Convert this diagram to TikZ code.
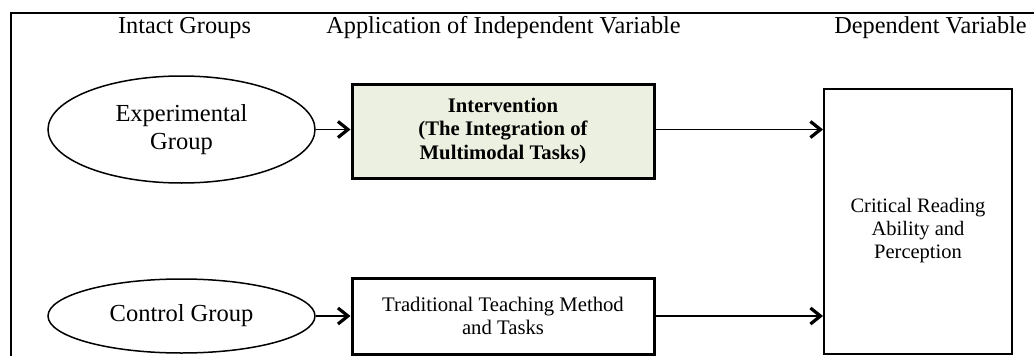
\documentclass[tikz,border=0pt]{standalone}
\usepackage{fontspec}
\setmainfont{Liberation Serif}
\usetikzlibrary{shapes.geometric,arrows.meta}
\definecolor{interfill}{RGB}{236,240,224}

\begin{document}
\begin{tikzpicture}[x=1pt,y=-1pt,
  grp/.style={ellipse,draw,line width=1.5pt,inner sep=0pt,align=center,font=\fontsize{24.5}{28}\selectfont},
  box/.style={rectangle,draw,line width=3pt,inner sep=0pt,align=center,font=\fontsize{20.7}{23.5}\selectfont},
  head/.style={anchor=base,font=\fontsize{24.3}{29}\selectfont},
  arr/.style={line width=1.7pt,-{Straight Barb[length=10pt,width=16pt,line width=3.2pt]}}]
\useasboundingbox (0,0) rectangle (1034,356);
\draw[line width=2pt] (11,356) -- (11,13) -- (1034,13);
% column heads
\node[head] (hgroups) at (184.5,33) {Intact Groups};
\node[head] (hindep) at (503.5,33) {Application of Independent Variable};
\node[head] (hdep) at (930.5,33) {Dependent Variable};
% groups
\node[grp,minimum width=267,minimum height=107] (exp) at (181.5,129.5) {Experimental\\Group};
\node[grp,minimum width=267,minimum height=74] (ctrl) at (181.5,316) {Control Group};
% treatments
\node[box,fill=interfill,minimum width=302,minimum height=94,font=\fontsize{20.7}{23.5}\selectfont\bfseries] (inter) at (503,131)
  {Intervention\\(The Integration of\\Multimodal Tasks)};
\node[box,minimum width=302,minimum height=76] (trad) at (503,316) {Traditional Teaching Method\\and Tasks};
% outcome
\node[box,line width=2pt,minimum width=188,minimum height=265] (dep) at (918,221.5) {};
\node[align=center,font=\fontsize{20.5}{23}\selectfont] (deptext) at (918,231) {Critical Reading\\Ability and\\Perception};
% arrows
\draw[arr] (exp.east) -- (inter.west |- exp.east);
\draw[arr] (ctrl.east) -- (trad.west);
\draw[arr] (inter.east |- exp.east) -- (dep.west |- exp.east);
\draw[arr] (trad.east) -- (trad.east -| dep.west);
\end{tikzpicture}
\end{document}
